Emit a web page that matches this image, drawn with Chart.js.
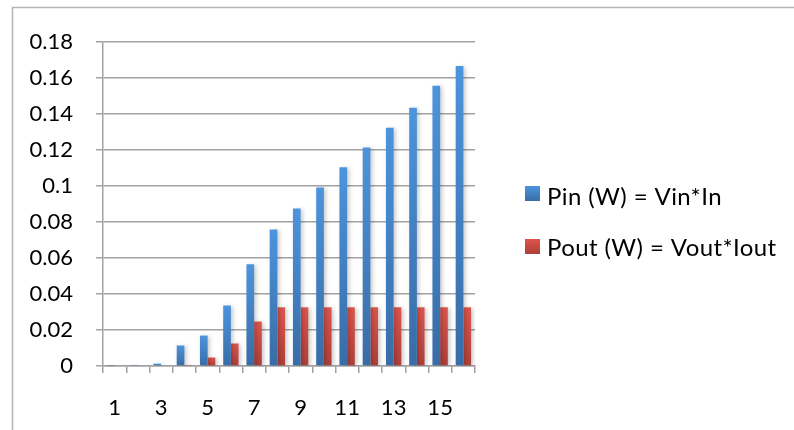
<!DOCTYPE html>
<html>
<head>
<meta charset="utf-8">
<script src="https://cdn.jsdelivr.net/npm/chart.js@4"></script>
<style>
  html, body { margin: 0; padding: 0; background: #ffffff; }
  #wrap { width: 794px; height: 430px; }
</style>
</head>
<body>
<div id="wrap"><canvas id="c" width="794" height="430"></canvas></div>
<script>
// Sample index 1..16
const categories = ['1','2','3','4','5','6','7','8','9','10','11','12','13','14','15','16'];

// Input power (W) = Vin * In
const pinValues = [0.0002, 0.0006, 0.0013, 0.0114, 0.0169, 0.0336, 0.0565, 0.0758,
                   0.0875, 0.0992, 0.1104, 0.1214, 0.1324, 0.1435, 0.1557, 0.1667];

// Output power (W) = Vout * Iout
const poutValues = [0, 0, 0, 0.0006, 0.0047, 0.0125, 0.0247, 0.0326,
                    0.0326, 0.0326, 0.0326, 0.0326, 0.0326, 0.0326, 0.0326, 0.0326];

const seriesNames = ['Pin (W) = Vin*In', 'Pout (W) = Vout*Iout'];

const yTickLabels = ['0','0.02','0.04','0.06','0.08','0.1','0.12','0.14','0.16','0.18'];

const FONT = 'Lato, "Open Sans", sans-serif';
const GRID = '#a2a2a2';

const palette = [
  { top: '#4c94dd', bottom: '#386ca6' },
  { top: '#dc554c', bottom: '#ad3f39' }
];

// vertical gradient running along each bar, light at the top, darker at the base
function barFill(idx) {
  return function (ctx) {
    const chart = ctx.chart;
    if (!chart.chartArea || ctx.type !== 'data') return palette[idx].top;
    const y = chart.scales.y;
    const top = y.getPixelForValue(ctx.raw);
    const base = y.getPixelForValue(0);
    if (!isFinite(top) || base - top < 1) return palette[idx].bottom;
    const g = chart.ctx.createLinearGradient(0, top, 0, base);
    g.addColorStop(0, palette[idx].top);
    g.addColorStop(1, palette[idx].bottom);
    return g;
  };
}

// outer frame and white background
const framePlugin = {
  id: 'frame',
  beforeDraw(chart) {
    const c = chart.ctx;
    c.save();
    c.fillStyle = '#ffffff';
    c.fillRect(0, 0, chart.width, chart.height);
    c.strokeStyle = '#b4b4b4';
    c.lineWidth = 1.5;
    c.beginPath();
    c.moveTo(12.5, chart.height);
    c.lineTo(12.5, 7.5);
    c.lineTo(chart.width, 7.5);
    c.stroke();
    c.restore();
  }
};

// soft drop shadow behind the bars
const shadowPlugin = {
  id: 'barShadow',
  beforeDatasetDraw(chart) {
    const c = chart.ctx;
    c.save();
    c.shadowColor = 'rgba(0,0,0,0.22)';
    c.shadowBlur = 4;
    c.shadowOffsetX = 2;
    c.shadowOffsetY = 1;
  },
  afterDatasetDraw(chart) {
    chart.ctx.restore();
  }
};

// legend to the right of the plot
const sideLegend = {
  id: 'sideLegend',
  afterDraw(chart) {
    const c = chart.ctx;
    c.save();
    c.font = '24px ' + FONT;
    if ('letterSpacing' in c) c.letterSpacing = '0.4px';
    c.textBaseline = 'alphabetic';
    c.textAlign = 'left';
    chart.data.datasets.forEach((ds, i) => {
      const sy = 186 + i * 53;
      const g = c.createLinearGradient(0, sy, 0, sy + 15);
      g.addColorStop(0, palette[i].top);
      g.addColorStop(1, palette[i].bottom);
      c.fillStyle = g;
      c.fillRect(525, sy, 15, 15);
      c.fillStyle = '#000000';
      c.fillText(ds.label, 547, 204.5 + i * 51);
    });
    c.restore();
  }
};

new Chart(document.getElementById('c'), {
  type: 'bar',
  data: {
    labels: categories,
    datasets: [
      {
        label: seriesNames[0],
        data: pinValues,
        backgroundColor: barFill(0),
        borderWidth: 0,
        categoryPercentage: 0.66,
        barPercentage: 1.0
      },
      {
        label: seriesNames[1],
        data: poutValues,
        backgroundColor: barFill(1),
        borderWidth: 0,
        categoryPercentage: 0.66,
        barPercentage: 1.0
      }
    ]
  },
  options: {
    responsive: false,
    animation: false,
    devicePixelRatio: 1,
    layout: { padding: { left: 0, top: 42, right: 319, bottom: 0 } },
    plugins: {
      legend: { display: false },
      tooltip: { enabled: false }
    },
    scales: {
      x: {
        grid: {
          offset: true,
          drawOnChartArea: false,
          drawTicks: true,
          tickLength: 7,
          color: GRID,
          lineWidth: 1.5
        },
        border: { display: true, color: GRID, width: 1.5 },
        ticks: {
          autoSkip: false,
          maxRotation: 0,
          padding: 22,
          color: '#000000',
          font: { family: FONT, size: 22 },
          callback: function (value, index) {
            return index % 2 === 0 ? categories[index] : '';
          }
        },
        afterFit(scale) { scale.height = 64; }
      },
      y: {
        min: 0,
        max: 0.18,
        grid: {
          drawTicks: true,
          tickLength: 7,
          color: GRID,
          lineWidth: 1.5
        },
        border: { display: true, color: GRID, width: 1.5 },
        ticks: {
          stepSize: 0.02,
          padding: 23,
          color: '#000000',
          font: { family: FONT, size: 22 },
          callback: function (value, index) {
            return yTickLabels[index];
          }
        },
        afterFit(scale) { scale.width = 103; }
      }
    }
  },
  plugins: [framePlugin, shadowPlugin, sideLegend]
});
</script>
</body>
</html>
